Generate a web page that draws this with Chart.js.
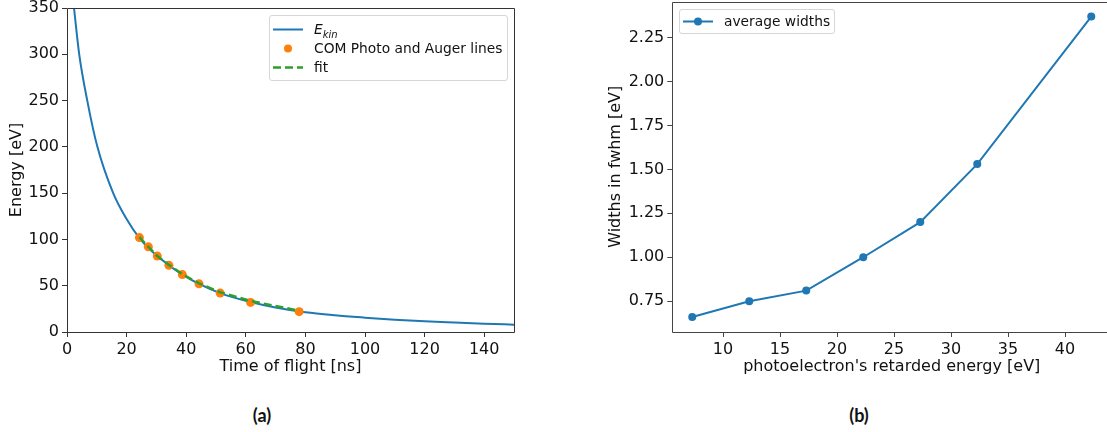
<!DOCTYPE html>
<html>
<head>
<meta charset="utf-8">
<script src="https://cdn.jsdelivr.net/npm/chart.js@4"></script>
<style>
  html, body { margin: 0; padding: 0; background: #fff; overflow: hidden; }
  #page { position: relative; width: 1107px; height: 432px; overflow: hidden; font-family: "DejaVu Sans", sans-serif; }
  canvas { position: absolute; top: 0; }
  #chartA { left: 0; }
  #chartB { left: 560px; }
  .legend { position: absolute; background: rgba(255,255,255,0.85); border: 1px solid #d6d6d6; border-radius: 3px;
            font-size: 13.8px; color: #111; box-sizing: border-box; }
  .row { position: relative; height: 19px; line-height: 19px; white-space: nowrap; }
  .sample { position: absolute; left: 3px; top: 0; width: 30px; height: 19px; }
  .label { position: absolute; left: 44px; top: 0; }
  .caption { position: absolute; top: 404px; font-family: "Lato", sans-serif; font-weight: bold; font-size: 18px; color: #111;
             transform: translateX(-50%); }
</style>
</head>
<body>
<div id="page">
  <canvas id="chartA" width="530" height="380"></canvas>
  <canvas id="chartB" width="560" height="380"></canvas>

  <div class="legend" style="left:269px; top:15px; width:239px; height:66px; padding-top:4px;">
    <div class="row">
      <svg class="sample" width="30" height="19"><line x1="0" y1="9.5" x2="30" y2="9.5" stroke="#1f77b4" stroke-width="2"/></svg>
      <span class="label"><i>E</i><sub style="font-size:10px"><i>kin</i></sub></span>
    </div>
    <div class="row">
      <svg class="sample" width="30" height="19"><circle cx="15" cy="9.5" r="4" fill="#ff7f0e"/></svg>
      <span class="label">COM Photo and Auger lines</span>
    </div>
    <div class="row">
      <svg class="sample" width="30" height="19"><line x1="0" y1="9.5" x2="30" y2="9.5" stroke="#2ca02c" stroke-width="2.5" stroke-dasharray="8 4"/></svg>
      <span class="label">fit</span>
    </div>
  </div>

  <div class="legend" style="left:679px; top:9px; width:156px; height:25px; padding-top:2px;">
    <div class="row">
      <svg class="sample" width="30" height="19"><line x1="0" y1="9.5" x2="30" y2="9.5" stroke="#1f77b4" stroke-width="2"/><circle cx="15" cy="9.5" r="4" fill="#1f77b4"/></svg>
      <span class="label">average widths</span>
    </div>
  </div>

  <div class="caption" style="left:262px;">(a)</div>
  <div class="caption" style="left:859px;">(b)</div>
</div>

<script>
// (a) kinetic energy vs time of flight
const tofCurve = [2.35, 4.1, 6.8, 10.2, 15.5, 20, 24.3, 30.3, 38.7, 51.4, 61.6, 70, 80, 90, 100, 110, 120, 130, 140, 150];
const ekinCurve = [350, 300, 250, 200, 150, 122, 101.5, 82, 62, 42, 32.5, 26.5, 21.3, 18, 15.5, 13.3, 11.5, 10.2, 9, 7.9];

const tofPeaks = [24.3, 27.3, 30.3, 34.2, 38.7, 44.3, 51.4, 61.6, 77.9];
const energyPeaks = [102, 92, 82, 72, 62, 52, 42, 32, 22];
const fitEnergy = [102.5, 92, 82, 72.5, 62.5, 52.5, 43, 33.5, 23];

const xTicksA = [0, 20, 40, 60, 80, 100, 120, 140];
const yTicksA = [0, 50, 100, 150, 200, 250, 300, 350];

// (b) average widths vs retarded energy (panel runs past the right edge)
const retardedEnergy = [7.3, 12.3, 17.3, 22.3, 27.3, 32.3, 42.3];
const avgWidths = [0.66, 0.75, 0.81, 1.00, 1.20, 1.53, 2.37];

const xTicksB = [10, 15, 20, 25, 30, 35, 40];
const yTicksB = [0.75, 1.00, 1.25, 1.50, 1.75, 2.00, 2.25];

const BLUE = "#1f77b4", ORANGE = "#ff7f0e", GREEN = "#2ca02c";
const TEXT = "#111";
const tickFont = { family: "DejaVu Sans", size: 16 };

function pairs(xs, ys) {
    return xs.map((x, i) => ({ x: x, y: ys[i] }));
}

// spines round the plot area
const frame = {
    id: "frame",
    afterDraw(chart, args, opts) {
        const a = chart.chartArea;
        const ctx = chart.ctx;
        const l = Math.round(a.left) + 0.5, r = Math.round(a.right) + 0.5;
        const t = Math.round(a.top) + 0.5, b = Math.round(a.bottom) + 0.5;
        ctx.save();
        ctx.strokeStyle = opts.color || "#333";
        ctx.lineWidth = 1;
        ctx.beginPath();
        ctx.rect(l, t, r - l, b - t);
        ctx.stroke();
        ctx.restore();
    }
};

function axis(opts) {
    return {
        type: "linear",
        min: opts.min,
        max: opts.max,
        border: { display: false },
        grid: { display: true, drawOnChartArea: false, drawTicks: true, tickLength: 5, tickColor: opts.color, tickWidth: 1 },
        ticks: {
            color: TEXT, font: tickFont, padding: opts.pad,
            maxRotation: 0, autoSkip: false,
            callback: opts.fmt || (v => String(v))
        },
        title: { display: true, text: opts.title, color: TEXT, font: tickFont, padding: opts.titlePad },
        afterBuildTicks: s => { s.ticks = opts.ticks.map(v => ({ value: v })); },
        afterFit: s => {
            if (opts.width !== undefined) s.width = opts.width;
            if (opts.height !== undefined) s.height = opts.height;
            s.paddingTop = 0; s.paddingBottom = 0; s.paddingLeft = 0; s.paddingRight = 0;
        }
    };
}

Chart.defaults.animation = false;
Chart.defaults.responsive = false;
Chart.defaults.devicePixelRatio = 1;

new Chart(document.getElementById("chartA"), {
    type: "scatter",
    data: {
        datasets: [
            {
                label: "fit",
                data: pairs(tofPeaks, fitEnergy),
                showLine: true,
                borderColor: GREEN,
                borderWidth: 2.5,
                borderDash: [8, 4],
                pointRadius: 0,
                order: 1
            },
            {
                label: "COM Photo and Auger lines",
                data: pairs(tofPeaks, energyPeaks),
                backgroundColor: ORANGE,
                borderColor: ORANGE,
                pointRadius: 4.5,
                pointBorderWidth: 0,
                order: 2
            },
            {
                label: "E_kin",
                data: pairs(tofCurve, ekinCurve),
                showLine: true,
                borderColor: BLUE,
                borderWidth: 2,
                pointRadius: 0,
                cubicInterpolationMode: "monotone",
                order: 3
            }
        ]
    },
    options: {
        layout: { autoPadding: false, padding: { top: 8, right: 16, left: 0, bottom: 0 } },
        plugins: { legend: { display: false }, tooltip: { enabled: false }, frame: { color: "#333" } },
        scales: {
            x: axis({ min: 0, max: 150, ticks: xTicksA, title: "Time of flight [ns]", color: "#333",
                      pad: 3, titlePad: { top: 0, bottom: 3.4 }, height: 48 }),
            y: axis({ min: 0, max: 350, ticks: yTicksA, title: "Energy [eV]", color: "#333",
                      pad: 3, titlePad: { top: 6.9, bottom: 0 }, width: 67 })
        }
    },
    plugins: [frame]
});

new Chart(document.getElementById("chartB"), {
    type: "scatter",
    data: {
        datasets: [
            {
                label: "average widths",
                data: pairs(retardedEnergy, avgWidths),
                showLine: true,
                borderColor: BLUE,
                borderWidth: 2,
                backgroundColor: BLUE,
                pointRadius: 4,
                pointBorderWidth: 0
            }
        ]
    },
    options: {
        layout: { autoPadding: false, padding: { top: 1.5, right: 8.8, left: 0, bottom: 0 } },
        plugins: { legend: { display: false }, tooltip: { enabled: false }, frame: { color: "#444" } },
        scales: {
            x: axis({ min: 5.55, max: 44.05, ticks: xTicksB, title: "photoelectron's retarded energy [eV]", color: "#444",
                      pad: 3, titlePad: { top: 0, bottom: 3.4 }, height: 48 }),
            y: axis({ min: 0.5745, max: 2.4555, ticks: yTicksB, title: "Widths in fwhm [eV]", color: "#444",
                      pad: 3, titlePad: { top: 46.4, bottom: 0 }, width: 112.3, fmt: v => v.toFixed(2) })
        }
    },
    plugins: [frame]
});
</script>
</body>
</html>
